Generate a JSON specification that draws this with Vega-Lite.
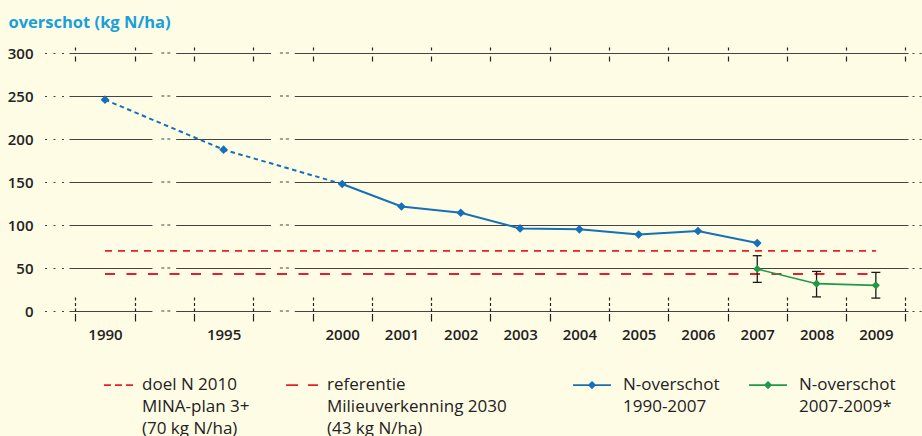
{
  "$schema": "https://vega.github.io/schema/vega-lite/v6.json",
  "width": 839,
  "height": 258,
  "autosize": "none",
  "padding": {"left": 69, "top": 53, "right": 14, "bottom": 125},
  "background": "#fffce5",
  "config": {"view": {"stroke": null}, "font": "Open Sans", "style": {"guide-label": {"lineHeight": 22}}},
  "datasets": {
    "blue": [
      {"year": "1990", "value": 245.7},
      {"year": "1995", "value": 187.6},
      {"year": "2000", "value": 147.7},
      {"year": "2001", "value": 121.5},
      {"year": "2002", "value": 114.2},
      {"year": "2003", "value": 96},
      {"year": "2004", "value": 95},
      {"year": "2005", "value": 89},
      {"year": "2006", "value": 93},
      {"year": "2007", "value": 79}
    ],
    "green": [
      {"year": "2007", "value": 48.8, "lo": 33.3, "hi": 64.3},
      {"year": "2008", "value": 31.8, "lo": 16.4, "hi": 46},
      {"year": "2009", "value": 29.8, "lo": 15, "hi": 44.9}
    ],
    "targets": [
      {"name": "doel", "value": 70, "from": "1990", "to": "2009"},
      {"name": "ref", "value": 43, "from": "1990", "to": "2009"}
    ],
    "gaps": [
      {"gap": "g1", "gy": [0, 50, 100, 150, 200, 250, 300]},
      {"gap": "g2", "gy": [0, 50, 100, 150, 200, 250, 300]}
    ]
  },
  "layer": [
    {
      "data": {"name": "gaps"},
      "mark": {"type": "bar", "width": {"band": 0.4}, "color": "#fffce5"},
      "encoding": {
        "x": {
          "field": "gap", "type": "ordinal",
          "scale": {"type": "band", "domain": ["1990","g1","1995","g2","2000","2001","2002","2003","2004","2005","2006","2007","2008","2009"], "paddingInner": 0, "paddingOuter": 0.0746, "align": 0.717},
          "axis": {
            "orient": "bottom", "tickBand": "extent", "ticks": true, "tickSize": 10,
            "tickColor": "#222", "tickWidth": 1.2, "tickDash": [0, 2.5, 8, 20],
            "domain": false, "grid": false, "labelFont": "Open Sans", "labelFontSize": 15,
            "labelFontWeight": 600, "labelColor": "#222", "labelPadding": 6, "labelDx": -3,
            "labelAngle": 0, "labelOverlap": false,
            "labelExpr": "datum.value == 'g1' || datum.value == 'g2' ? '' : datum.value",
            "title": null
          }
        },
        "y": {"datum": -3, "type": "quantitative", "scale": {"domain": [0, 300], "nice": false}, "axis": null},
        "y2": {"datum": 303}
      }
    },
    {
      "data": {"name": "gaps"},
      "transform": [{"flatten": ["gy"]}],
      "mark": {"type": "rule", "color": "#444", "strokeWidth": 1.2, "strokeDash": [3, 3]},
      "encoding": {
        "x": {"field": "gap", "type": "ordinal", "bandPosition": 0.45, "axis": null},
        "x2": {"field": "gap", "bandPosition": 0.63},
        "y": {
          "field": "gy", "type": "quantitative", "scale": {"domain": [0, 300], "nice": false},
          "axis": {
            "orient": "left", "values": [0, 50, 100, 150, 200, 250, 300],
            "grid": true, "gridColor": "#444", "gridWidth": 1.2, "domain": false,
            "ticks": true, "tickSize": 25, "tickColor": "#444", "tickWidth": 1.2,
            "tickDash": [2, 6.5], "tickDashOffset": 3, "labelPadding": 11,
            "labelFont": "Open Sans", "labelFontSize": 15, "labelFontWeight": 600, "labelColor": "#222",
            "title": "overschot (kg N/ha)", "titleAngle": 0, "titleAlign": "left",
            "titleBaseline": "alphabetic", "titleX": -61, "titleY": -26,
            "titleFont": "Open Sans", "titleFontSize": 16.5, "titleFontWeight": 700, "titleColor": "#16a0dc"
          }
        }
      }
    },
    {
      "data": {"name": "targets"},
      "mark": {"type": "rule", "color": "#e4202a", "strokeWidth": 1.8},
      "encoding": {
        "x": {
          "field": "from", "type": "ordinal", "bandPosition": 0.5,
          "axis": {
            "orient": "bottom", "tickBand": "extent", "ticks": true, "tickSize": -16,
            "tickDash": [3, 2.5], "tickColor": "#222", "tickWidth": 1.2,
            "labels": false, "domain": false, "grid": false, "title": null
          }
        },
        "x2": {"field": "to", "bandPosition": 0.5},
        "y": {"field": "value", "type": "quantitative", "axis": null},
        "strokeDash": {"field": "name", "type": "nominal", "scale": {"domain": ["doel", "ref"], "range": [[7, 6], [10, 11.5]]}, "legend": null}
      }
    },
    {
      "data": {"name": "blue"},
      "transform": [{"filter": "toNumber(datum.year) <= 2000"}],
      "mark": {"type": "line", "color": "#1470b8", "strokeWidth": 2, "strokeDash": [4.5, 3.5]},
      "encoding": {
        "x": {
          "field": "year", "type": "ordinal",
          "axis": {
            "orient": "top", "offset": 6, "tickBand": "extent", "ticks": true, "tickSize": -14,
            "tickDash": [3, 6, 5, 30], "tickColor": "#222", "tickWidth": 1.2,
            "labels": false, "domain": false, "grid": false, "title": null
          }
        },
        "y": {"field": "value", "type": "quantitative", "axis": null}
      }
    },
    {
      "data": {"name": "blue"},
      "transform": [{"filter": "toNumber(datum.year) >= 2000"}],
      "mark": {"type": "line", "color": "#1470b8", "strokeWidth": 2},
      "encoding": {
        "x": {"field": "year", "type": "ordinal", "axis": null},
        "y": {"field": "value", "type": "quantitative", "axis": null}
      }
    },
    {
      "data": {"name": "blue"},
      "mark": {"type": "point", "shape": "diamond", "filled": true, "size": 75, "color": "#1470b8", "opacity": 1},
      "encoding": {
        "x": {"field": "year", "type": "ordinal", "axis": null},
        "y": {"field": "value", "type": "quantitative", "axis": null}
      }
    },
    {
      "data": {"name": "green"},
      "mark": {"type": "rule", "color": "#1a1a1a", "strokeWidth": 1.3},
      "encoding": {
        "x": {"field": "year", "type": "ordinal", "axis": null},
        "y": {"field": "lo", "type": "quantitative", "axis": null},
        "y2": {"field": "hi"}
      }
    },
    {
      "data": {"name": "green"},
      "mark": {"type": "tick", "color": "#1a1a1a", "size": 9, "thickness": 1.3, "opacity": 1},
      "encoding": {
        "x": {"field": "year", "type": "ordinal", "axis": null},
        "y": {"field": "lo", "type": "quantitative", "axis": null}
      }
    },
    {
      "data": {"name": "green"},
      "mark": {"type": "tick", "color": "#1a1a1a", "size": 9, "thickness": 1.3, "opacity": 1},
      "encoding": {
        "x": {"field": "year", "type": "ordinal", "axis": null},
        "y": {"field": "hi", "type": "quantitative", "axis": null}
      }
    },
    {
      "data": {"name": "green"},
      "mark": {"type": "line", "color": "#1c9a48", "strokeWidth": 1.6},
      "encoding": {
        "x": {"field": "year", "type": "ordinal", "axis": null},
        "y": {
          "field": "value", "type": "quantitative",
          "axis": {
            "orient": "right", "values": [0, 50, 100, 150, 200, 250, 300], "grid": false,
            "domain": false, "labels": false, "ticks": true, "tickSize": 14,
            "tickDash": [2, 5], "tickDashOffset": 3, "tickColor": "#444", "tickWidth": 1.2, "title": null
          }
        }
      }
    },
    {
      "data": {"name": "green"},
      "mark": {"type": "point", "shape": "diamond", "filled": true, "size": 65, "color": "#1c9a48", "opacity": 1},
      "encoding": {
        "x": {"field": "year", "type": "ordinal", "axis": null},
        "y": {"field": "value", "type": "quantitative", "axis": null}
      }
    },
    {
      "data": {"values": []},
      "mark": {"type": "point", "filled": false, "size": 1444, "color": "#e4202a", "opacity": 1, "strokeWidth": 1.8},
      "encoding": {
        "shape": {
          "field": "s", "type": "nominal",
          "scale": {
            "domain": ["doel N 2010|MINA-plan 3+|(70 kg N/ha)", "referentie|Milieuverkenning 2030|(43 kg N/ha)"],
            "range": ["M-0.53,-0.26H-0.16M0.05,-0.26H0.42M0.63,-0.26H1", "M-0.68,-0.26H-0.05M0.47,-0.26H1"]
          },
          "legend": {
            "title": null, "orient": "none", "legendX": 25, "legendY": 317, "direction": "horizontal",
            "columns": 2, "columnPadding": 29, "padding": 0, "symbolSize": 1444, "symbolStrokeWidth": 1.8,
            "labelFont": "Open Sans", "labelFontSize": 17, "labelColor": "#222", "labelOffset": 8,
            "labelLimit": 400, "labelBaseline": "alphabetic", "labelExpr": "split(datum.label, '|')"
          }
        }
      }
    },
    {
      "data": {"values": []},
      "mark": {"type": "point", "filled": false, "size": 1444, "shape": "M-1,-0.26H1M0,-0.41L0.15,-0.26L0,-0.11L-0.15,-0.26ZM0,-0.34L0.08,-0.26L0,-0.18L-0.08,-0.26ZM0,-0.28L0.02,-0.26L0,-0.24L-0.02,-0.26Z", "opacity": 1, "strokeWidth": 1.8},
      "encoding": {
        "color": {
          "field": "c", "type": "nominal",
          "scale": {"domain": ["N-overschot|1990-2007", "N-overschot|2007-2009*"], "range": ["#1470b8", "#1c9a48"]},
          "legend": {
            "title": null, "orient": "none", "legendX": 503, "legendY": 317, "direction": "horizontal",
            "columns": 2, "columnPadding": 25, "padding": 0, "symbolSize": 1444, "symbolStrokeWidth": 1.8,
            "symbolType": "M-1,-0.26H1M0,-0.41L0.15,-0.26L0,-0.11L-0.15,-0.26ZM0,-0.34L0.08,-0.26L0,-0.18L-0.08,-0.26ZM0,-0.28L0.02,-0.26L0,-0.24L-0.02,-0.26Z",
            "labelFont": "Open Sans", "labelFontSize": 17, "labelColor": "#222", "labelOffset": 11,
            "labelLimit": 400, "labelBaseline": "alphabetic", "labelExpr": "split(datum.label, '|')"
          }
        }
      }
    }
  ],
  "resolve": {"scale": {"x": "shared", "y": "shared"}, "axis": {"x": "independent", "y": "independent"}}
}
